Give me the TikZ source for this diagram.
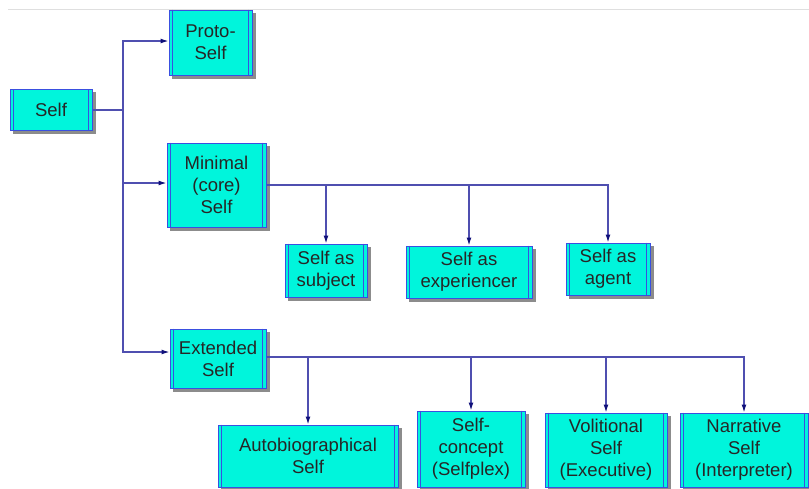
\documentclass[tikz,border=0pt]{standalone}
\usepackage{fontspec}
\setmainfont{Liberation Sans}
\usetikzlibrary{arrows.meta,backgrounds}
\definecolor{boxfill}{HTML}{00F5DC}
\definecolor{boxline}{HTML}{3A4FE0}
\definecolor{linkc}{HTML}{4F4FB0}
\definecolor{tipc}{HTML}{10107A}
\definecolor{shadec}{HTML}{8C8C8C}
\colorlet{rulec}{gray!25}

\begin{document}
\begin{tikzpicture}[x=1pt,y=-1pt,
    selfbox/.style={draw=boxline,fill=boxfill,line width=1pt,
        minimum width=#1,inner sep=0pt,align=center,text=black!85,
        font=\fontsize{18.5}{22}\selectfont},
    rails/.style={draw=boxline,line width=0.8pt},
    link/.style={draw=linkc,line width=1.2pt},
    arrow/.style={link,-{Latex[length=8pt,width=5pt,color=tipc]}}
]
    \useasboundingbox (0,0) rectangle (809,488);
    \draw[rulec,line width=0.8pt] (8,9) -- (809,9);

    % top level
    \node[selfbox=82,minimum height=41] (self) at (51,110) {Self};
    \node[selfbox=83,minimum height=65] (proto) at (210.5,42.5) {Proto-\\Self};
    \node[selfbox=99,minimum height=84] (minimal) at (216.5,185) {Minimal\\(core)\\Self};
    \node[selfbox=96,minimum height=59] (extended) at (218,358.5) {Extended\\Self};

    % minimal self
    \node[selfbox=82,minimum height=53] (subject) at (326,270.5) {Self as\\subject};
    \node[selfbox=126,minimum height=52] (experiencer) at (469,272) {Self as\\experiencer};
    \node[selfbox=84,minimum height=52] (agent) at (608,269) {Self as\\agent};

    % extended self
    \node[selfbox=180,minimum height=62] (autobio) at (308,456) {Autobiographical\\Self};
    \node[selfbox=108,minimum height=76] (concept) at (471,449) {Self-\\concept\\(Selfplex)};
    \node[selfbox=122,minimum height=74] (volitional) at (606,450) {Volitional\\Self\\(Executive)};
    \node[selfbox=128,minimum height=74] (narrative) at (744,450) {Narrative\\Self\\(Interpreter)};

    % inner side rails and shadows
    \foreach \n in {self,proto,minimal,extended,subject,experiencer,agent,
                    autobio,concept,volitional,narrative}{
        \draw[rails] ([xshift=4pt]\n.north west) -- ([xshift=4pt]\n.south west)
                     ([xshift=-4pt]\n.north east) -- ([xshift=-4pt]\n.south east);
        \begin{scope}[on background layer]
            \fill[shadec] ([shift={(3,3)}]\n.north west) rectangle ([shift={(3,3)}]\n.south east);
        \end{scope}
    }

    % connectors
    \coordinate (split) at (123,110);
    \draw[link] (self.east) -- (split);
    \draw[arrow] (split) |- ([yshift=1.5pt]proto.west);
    \draw[arrow] (split) |- ([yshift=2pt]minimal.west);
    \draw[arrow] (split) |- ([yshift=6.5pt]extended.west);

    \draw[arrow] (minimal.east) -| (subject);
    \draw[arrow] (minimal.east) -| (experiencer);
    \draw[arrow] (minimal.east) -| (agent);

    \draw[arrow] ([yshift=1.5pt]extended.east) -| (autobio);
    \draw[arrow] ([yshift=1.5pt]extended.east) -| (concept);
    \draw[arrow] ([yshift=1.5pt]extended.east) -| (volitional);
    \draw[arrow] ([yshift=1.5pt]extended.east) -| (narrative);
\end{tikzpicture}
\end{document}
